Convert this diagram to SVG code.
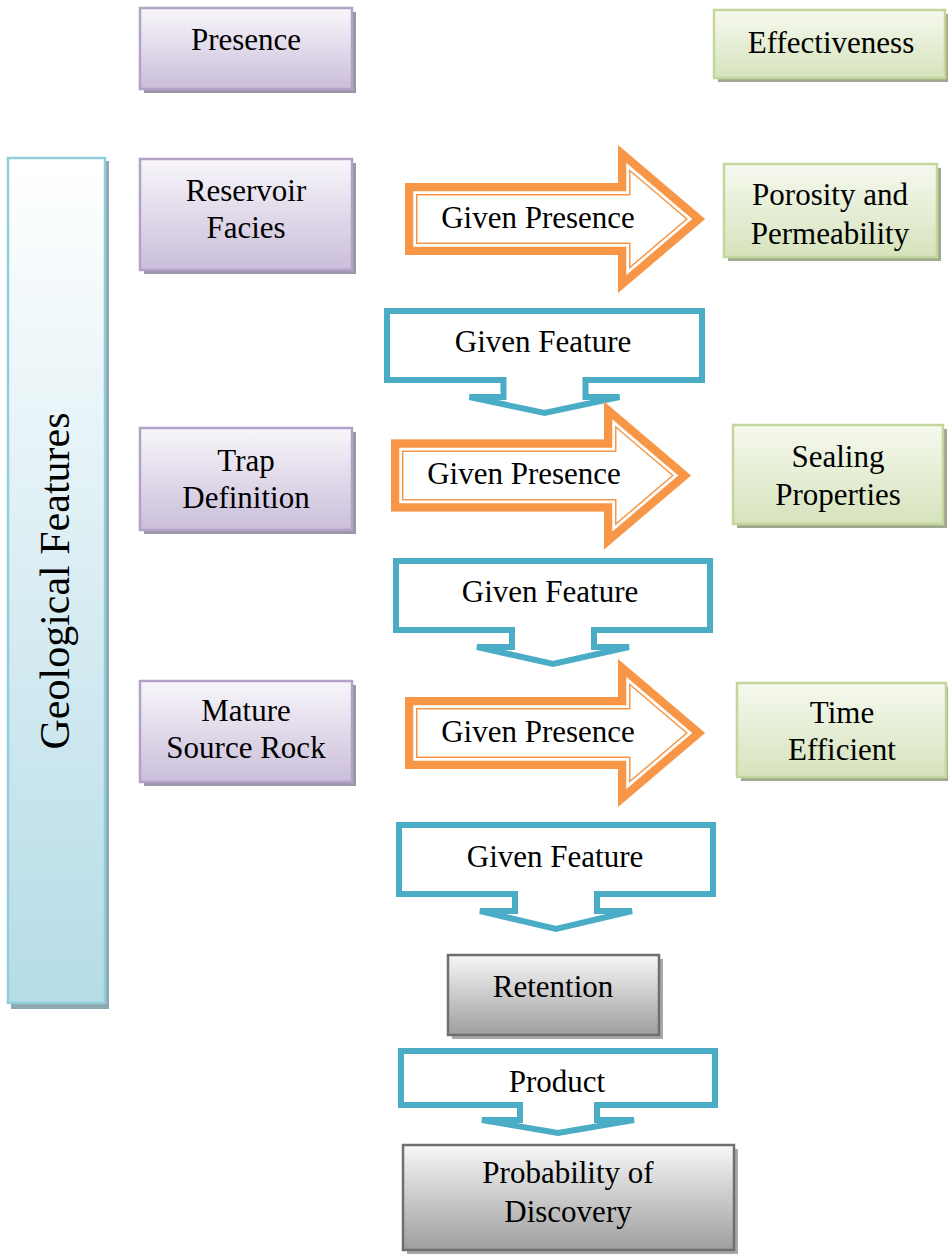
<svg xmlns="http://www.w3.org/2000/svg" width="948" height="1257" viewBox="0 0 948 1257" font-family="'Liberation Serif', 'Times New Roman', Times, serif">
<style>
text{font-family:'Liberation Serif','Times New Roman',Times,serif;font-size:31px;fill:#000;text-anchor:middle}
.pb{fill:url(#gp);stroke:#B3A2C7;stroke-width:2.5}
.ps{fill:#9D95A8}
.gb{fill:url(#gg);stroke:#C3D69B;stroke-width:2.5}
.gs{fill:#A0A98F}
.kb{fill:url(#gk);stroke:#6F6F6F;stroke-width:2.5}
.ks{fill:#A8A8A8}
.blue{fill:#fff;stroke:#4BACC6;stroke-width:6;stroke-linejoin:miter;stroke-miterlimit:4}
.o1{fill:none;stroke:#F79646;stroke-width:25;stroke-linejoin:miter}
.o2{fill:none;stroke:#fff;stroke-width:22;stroke-linejoin:miter}
.o3{fill:none;stroke:#F79646;stroke-width:16.5;stroke-linejoin:miter}
</style>
<defs>
<linearGradient id="gp" x1="0" y1="0" x2="0" y2="1"><stop offset="0" stop-color="#F8F6FA"/><stop offset="1" stop-color="#CABEDA"/></linearGradient>
<linearGradient id="gg" x1="0" y1="0" x2="0" y2="1"><stop offset="0" stop-color="#F6F9EF"/><stop offset="1" stop-color="#D6E3BC"/></linearGradient>
<linearGradient id="gb" x1="0" y1="0" x2="0" y2="1"><stop offset="0" stop-color="#FFFFFF"/><stop offset="1" stop-color="#B5DCE7"/></linearGradient>
<linearGradient id="gk" x1="0" y1="0" x2="0" y2="1"><stop offset="0" stop-color="#F7F7F7"/><stop offset="1" stop-color="#9E9E9E"/></linearGradient>
<path id="arr" d="M0,-36 H213 V-74 L300,0 L213,74 V36 H0 Z"/>
<clipPath id="ac" clipPathUnits="userSpaceOnUse"><use href="#arr"/></clipPath>
</defs>

<g id="geological-features">
<rect x="11" y="161" width="98" height="848" fill="#8EA9B1"/>
<rect x="8" y="158" width="97" height="845" fill="url(#gb)" stroke="#92CDDC" stroke-width="2.5"/>
<text transform="translate(69,581) rotate(-90)" style="font-size:42px">Geological Features</text>
</g>

<g id="presence">
<rect class="ps" x="144" y="12" width="212" height="81"/>
<rect class="pb" x="140" y="8" width="212" height="81"/>
<text x="246" y="50">Presence</text>
</g>

<g id="effectiveness">
<rect class="gs" x="718" y="14" width="231" height="68"/>
<rect class="gb" x="714" y="10" width="231" height="68"/>
<text x="831" y="53">Effectiveness</text>
</g>

<g id="reservoir-facies">
<rect class="ps" x="144" y="163" width="212" height="111"/>
<rect class="pb" x="140" y="159" width="212" height="111"/>
<text x="246" y="201">Reservoir</text>
<text x="246" y="238">Facies</text>
</g>

<g id="trap-definition">
<rect class="ps" x="144" y="432" width="212" height="102"/>
<rect class="pb" x="140" y="428" width="212" height="102"/>
<text x="246" y="471">Trap</text>
<text x="246" y="508">Definition</text>
</g>

<g id="mature-source-rock">
<rect class="ps" x="144" y="685" width="212" height="101"/>
<rect class="pb" x="140" y="681" width="212" height="101"/>
<text x="246" y="721">Mature</text>
<text x="246" y="758">Source Rock</text>
</g>

<g id="porosity-permeability">
<rect class="gs" x="728" y="168" width="213" height="93"/>
<rect class="gb" x="724" y="164" width="213" height="93"/>
<text x="830" y="205">Porosity and</text>
<text x="830" y="244">Permeability</text>
</g>

<g id="sealing-properties">
<rect class="gs" x="737" y="429" width="210" height="99"/>
<rect class="gb" x="733" y="425" width="210" height="99"/>
<text x="838" y="467">Sealing</text>
<text x="838" y="505">Properties</text>
</g>

<g id="time-efficient">
<rect class="gs" x="741" y="687" width="209" height="94"/>
<rect class="gb" x="737" y="683" width="209" height="94"/>
<text x="842" y="723">Time</text>
<text x="842" y="760">Efficient</text>
</g>

<g id="retention">
<rect class="ks" x="452" y="959" width="211" height="80"/>
<rect class="kb" x="448" y="955" width="211" height="80"/>
<text x="553" y="997">Retention</text>
</g>

<g id="probability-of-discovery">
<rect class="ks" x="407" y="1149" width="331" height="105"/>
<rect class="kb" x="403" y="1145" width="331" height="105"/>
<text x="568" y="1183">Probability of</text>
<text x="568" y="1222">Discovery</text>
</g>

<g id="connectors">
<g id="given-presence-1" transform="translate(405,219)">
<g clip-path="url(#ac)">
<use href="#arr" fill="#fff"/>
<use href="#arr" class="o1"/>
<use href="#arr" class="o2"/>
<use href="#arr" class="o3"/>
</g>
<text x="133" y="9">Given Presence</text>
</g>
<g id="given-feature-1">
<path class="blue" d="M387,311 H702 V380 H585.5 V397 H619.5 L544.5,413 L469.5,397 H503.5 V380 H387 Z"/>
<text x="543" y="352">Given Feature</text>
</g>
<g id="given-presence-2" transform="translate(391,475.5)">
<g clip-path="url(#ac)">
<use href="#arr" fill="#fff"/>
<use href="#arr" class="o1"/>
<use href="#arr" class="o2"/>
<use href="#arr" class="o3"/>
</g>
<text x="133" y="8">Given Presence</text>
</g>
<g id="given-feature-2">
<path class="blue" d="M396,561 H710 V630 H594 V647 H629 L553,664 L477,647 H512 V630 H396 Z"/>
<text x="550" y="602">Given Feature</text>
</g>
<g id="given-presence-3" transform="translate(405,733)">
<g clip-path="url(#ac)">
<use href="#arr" fill="#fff"/>
<use href="#arr" class="o1"/>
<use href="#arr" class="o2"/>
<use href="#arr" class="o3"/>
</g>
<text x="133" y="9">Given Presence</text>
</g>
<g id="given-feature-3">
<path class="blue" d="M399,825 H713 V894 H597 V911 H632 L556,929 L480,911 H515 V894 H399 Z"/>
<text x="555" y="867">Given Feature</text>
</g>
<g id="product">
<path class="blue" d="M401,1051 H715 V1105 H597 V1120 H634 L558,1133 L482,1120 H520 V1105 H401 Z"/>
<text x="557" y="1092">Product</text>
</g>
</g>
</svg>
